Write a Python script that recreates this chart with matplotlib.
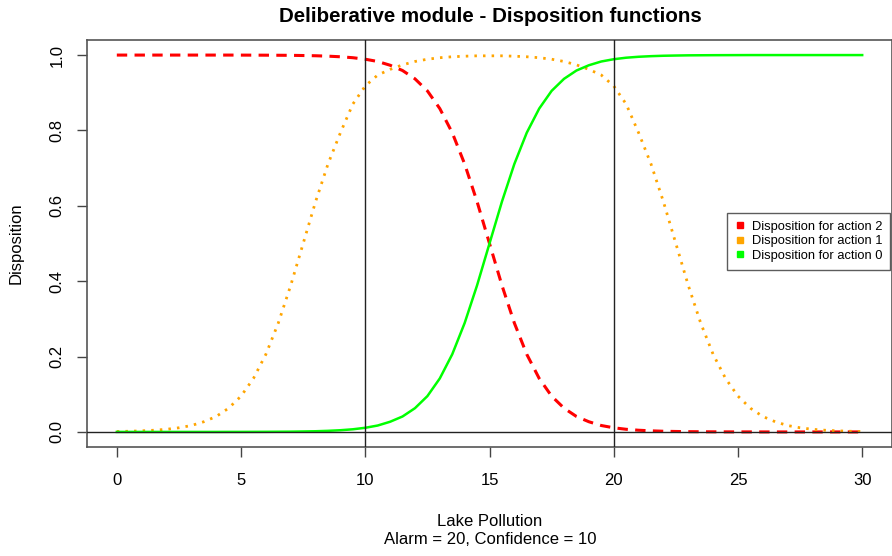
import numpy as np
import matplotlib
matplotlib.use("Agg")
import matplotlib.pyplot as plt
from matplotlib.lines import Line2D

plt.rcParams['font.family'] = ['Liberation Sans', 'DejaVu Sans']

# Lake pollution grid (0..30 step 0.5)
pollution = np.arange(0, 30.5, 0.5)

# disposition for action 0 (green, rising)
disp_action0 = [0.000, 0.000, 0.000, 0.000, 0.000, 0.000, 0.000, 0.000, 0.000,
                0.0001, 0.0001, 0.0002, 0.0003, 0.0005, 0.0007, 0.0012, 0.0018, 0.0029, 0.0045, 0.0070,
                0.011, 0.017, 0.027, 0.041, 0.063, 0.095, 0.142, 0.206, 0.289, 0.389, 0.500,
                0.611, 0.711, 0.794, 0.858, 0.905, 0.937, 0.959, 0.973, 0.983, 0.989,
                0.993, 0.9955, 0.9971, 0.9982, 0.9988, 0.9993, 0.9995, 0.9997, 0.9998, 0.9999,
                1.0, 1.0, 1.0, 1.0, 1.0, 1.0, 1.0, 1.0, 1.0, 1.0]

# disposition for action 1 (orange, bell)
disp_action1 = [0.0012, 0.0018, 0.0029, 0.0045, 0.0070, 0.011, 0.017, 0.027, 0.041, 0.063,
                0.095, 0.142, 0.206, 0.289, 0.389, 0.500, 0.611, 0.711, 0.794, 0.870,
                0.918, 0.947, 0.962, 0.974, 0.983, 0.989, 0.993, 0.9955, 0.997, 0.998,
                0.998,
                0.998, 0.997, 0.9955, 0.993, 0.989, 0.983, 0.974, 0.962, 0.947, 0.918,
                0.870, 0.794, 0.711, 0.611, 0.500, 0.389, 0.289, 0.206, 0.142, 0.095,
                0.063, 0.041, 0.027, 0.017, 0.011, 0.0070, 0.0045, 0.0029, 0.0018, 0.0012]

# disposition for action 2 (red, falling)
disp_action2 = [1.0, 1.0, 1.0, 1.0, 1.0, 1.0, 1.0, 1.0, 1.0, 1.0,
                0.9999, 0.9998, 0.9997, 0.9995, 0.9993, 0.9988, 0.9982, 0.9971, 0.9955, 0.993,
                0.989, 0.983, 0.973, 0.959, 0.937, 0.905, 0.858, 0.794, 0.711, 0.611,
                0.500, 0.389, 0.289, 0.206, 0.142, 0.095, 0.063, 0.041, 0.027, 0.017,
                0.011, 0.0070, 0.0045, 0.0029, 0.0018, 0.0012, 0.0007, 0.0005, 0.0003, 0.0002,
                0.0001, 0.0001, 0.000, 0.000, 0.000, 0.000, 0.000, 0.000, 0.000, 0.000, 0.000]

alarm = 20
confidence = 10
x_ticks = [0, 5, 10, 15, 20, 25, 30]
y_ticks = [0.0, 0.2, 0.4, 0.6, 0.8, 1.0]
y_ticklabels = ["0.0", "0.2", "0.4", "0.6", "0.8", "1.0"]

fig = plt.figure(figsize=(8.92, 5.56), dpi=100)
ax = fig.add_axes([87 / 892, 109 / 556, 805 / 892, 407 / 556])

ax.plot(pollution, disp_action2, color="#FF0000", lw=2.2, linestyle=(0, (3.4, 2.4)))
ax.plot(pollution, disp_action1, color="#FFA500", lw=2.0, linestyle=(0, (0.9, 2.2)))
ax.plot(pollution, disp_action0, color="#00FF00", lw=1.8)

ax.axvline(confidence, color="#222222", lw=1.0, zorder=5)
ax.axvline(alarm, color="#222222", lw=1.0, zorder=5)
ax.axhline(0, color="#222222", lw=1.0, zorder=5)

ax.set_xlim(-1.2, 31.2)
ax.set_ylim(-0.04, 1.04)
ax.set_xticks(x_ticks)
ax.set_yticks(y_ticks)
ax.set_yticklabels(y_ticklabels, rotation=90, va="center")
ax.tick_params(axis="both", labelsize=12, length=7, width=1.0, color="#444444")
ax.tick_params(axis="x", pad=12)
ax.tick_params(axis="y", pad=9)
for s in ax.spines.values():
    s.set_color("#555555")
    s.set_linewidth(1.2)

handles = [Line2D([], [], marker="s", color=c, linestyle="None", markersize=5)
           for c in ["#FF0000", "#FFA500", "#00FF00"]]
leg = ax.legend(handles, ["Disposition for action 2", "Disposition for action 1", "Disposition for action 0"],
                loc="upper left", bbox_to_anchor=(0.795, 0.575), borderaxespad=0,
                fontsize=9.3, frameon=True, fancybox=False, handlelength=0.8,
                handletextpad=0.5, labelspacing=0.2, borderpad=0.6)
leg.get_frame().set_edgecolor("#333333")
leg.get_frame().set_linewidth(1.0)

fig.text(490 / 892, 1 - 17 / 556, "Deliberative module - Disposition functions",
         ha="center", va="center", fontsize=14.8, fontweight="bold")
fig.text(490 / 892, 1 - 521 / 556, "Lake Pollution", ha="center", va="center", fontsize=12)
fig.text(490 / 892, 1 - 540 / 556, "Alarm = 20, Confidence = 10", ha="center", va="center", fontsize=12)
fig.text(16 / 892, 1 - 243 / 556, "Disposition", ha="center", va="center", fontsize=12, rotation=90)

fig.savefig("out.png", dpi=100)
